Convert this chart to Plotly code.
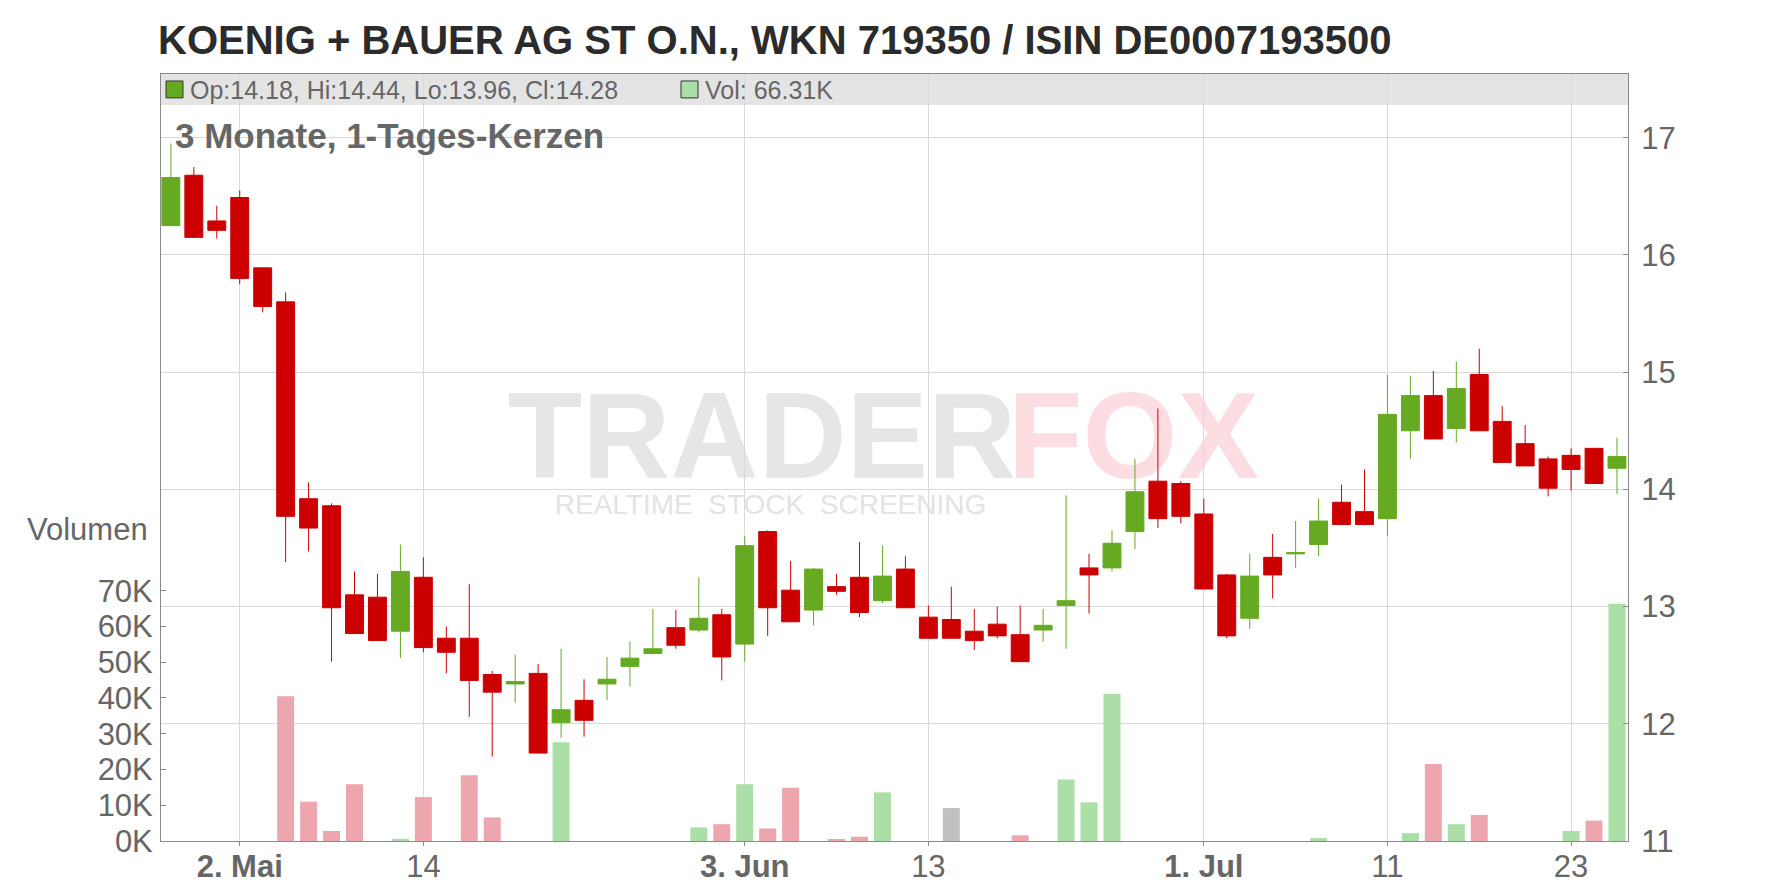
import plotly.graph_objects as go

# ---------------- data ----------------
dates = [
    "2024-04-26", "2024-04-29", "2024-04-30", "2024-05-02", "2024-05-03",
    "2024-05-06", "2024-05-07", "2024-05-08", "2024-05-09", "2024-05-10",
    "2024-05-13", "2024-05-14", "2024-05-15", "2024-05-16", "2024-05-17",
    "2024-05-20", "2024-05-21", "2024-05-22", "2024-05-23", "2024-05-24",
    "2024-05-27", "2024-05-28", "2024-05-29", "2024-05-30", "2024-05-31",
    "2024-06-03", "2024-06-04", "2024-06-05", "2024-06-06", "2024-06-07",
    "2024-06-10", "2024-06-11", "2024-06-12", "2024-06-13", "2024-06-14",
    "2024-06-17", "2024-06-18", "2024-06-19", "2024-06-20", "2024-06-21",
    "2024-06-24", "2024-06-25", "2024-06-26", "2024-06-27", "2024-06-28",
    "2024-07-01", "2024-07-02", "2024-07-03", "2024-07-04", "2024-07-05",
    "2024-07-08", "2024-07-09", "2024-07-10", "2024-07-11", "2024-07-12",
    "2024-07-15", "2024-07-16", "2024-07-17", "2024-07-18", "2024-07-19",
    "2024-07-22", "2024-07-23", "2024-07-24", "2024-07-25",
]

opens = [16.25, 16.68, 16.29, 16.49, 15.89, 15.60, 13.92, 13.86, 13.10, 13.08,
         12.79, 13.25, 12.73, 12.73, 12.42, 12.34, 12.43, 12.01, 12.20, 12.34,
         12.49, 12.60, 12.82, 12.80, 12.93, 12.68, 13.64, 13.14, 12.97, 13.17,
         13.25, 13.05, 13.32, 12.91, 12.89, 12.79, 12.85, 12.76, 12.80, 13.01,
         13.33, 13.33, 13.64, 14.07, 14.05, 13.79, 13.27, 12.90, 13.42, 13.45,
         13.53, 13.89, 13.81, 13.75, 14.50, 14.80, 14.52, 14.98, 14.58, 14.39,
         14.26, 14.29, 14.35, 14.18]
highs = [16.95, 16.75, 16.42, 16.55, 15.89, 15.68, 14.06, 13.88, 13.30, 13.28,
         13.53, 13.42, 12.83, 13.19, 12.45, 12.59, 12.51, 12.64, 12.38, 12.57,
         12.70, 12.98, 12.97, 13.25, 12.98, 13.60, 13.65, 13.39, 13.33, 13.28,
         13.55, 13.52, 13.43, 13.01, 13.17, 12.98, 13.00, 13.01, 12.98, 13.95,
         13.45, 13.65, 14.26, 14.69, 14.07, 13.92, 13.28, 13.45, 13.62, 13.73,
         13.92, 14.04, 14.17, 14.98, 14.97, 15.01, 15.09, 15.20, 14.71, 14.55,
         14.28, 14.35, 14.35, 14.44]
lows = [16.25, 16.15, 16.14, 15.75, 15.51, 13.38, 13.47, 12.53, 12.77, 12.71,
        12.56, 12.61, 12.43, 12.06, 11.72, 12.18, 11.75, 11.88, 11.89, 12.20,
        12.32, 12.59, 12.64, 12.78, 12.37, 12.53, 12.75, 12.87, 12.84, 13.10,
        12.91, 13.03, 12.99, 12.73, 12.73, 12.63, 12.73, 12.53, 12.70, 12.64,
        12.94, 13.30, 13.49, 13.67, 13.71, 13.15, 12.73, 12.81, 13.07, 13.33,
        13.43, 13.70, 13.70, 13.60, 14.26, 14.43, 14.40, 14.50, 14.23, 14.20,
        13.94, 13.99, 14.05, 13.96]
closes = [16.66, 16.15, 16.21, 15.80, 15.56, 13.77, 13.67, 12.99, 12.77, 12.71,
          13.30, 12.65, 12.61, 12.37, 12.27, 12.36, 11.75, 12.12, 12.03, 12.38,
          12.56, 12.64, 12.67, 12.90, 12.57, 13.52, 12.99, 12.87, 13.32, 13.13,
          12.95, 13.26, 12.99, 12.73, 12.73, 12.71, 12.75, 12.53, 12.84, 13.05,
          13.27, 13.54, 13.98, 13.75, 13.77, 13.15, 12.75, 13.26, 13.27, 13.46,
          13.73, 13.70, 13.70, 14.64, 14.80, 14.43, 14.86, 14.50, 14.23, 14.20,
          14.01, 14.17, 14.05, 14.28]
volumes = [0, 0, 0, 0, 0, 40500, 11000, 2800, 15900, 0,
           600, 12300, 0, 18400, 6600, 0, 0, 27600, 0, 0,
           0, 0, 0, 3800, 4700, 15900, 3500, 14900, 0, 400,
           1200, 13600, 0, 0, 9200, 0, 0, 1600, 0, 17200,
           10800, 41200, 0, 0, 0, 0, 0, 0, 0, 0,
           800, 0, 0, 0, 2200, 21500, 4700, 7300, 0, 0,
           0, 2800, 5700, 66310]

tick_dates = ["2024-05-02", "2024-05-14", "2024-06-03", "2024-06-13",
              "2024-07-01", "2024-07-11", "2024-07-23"]
tick_labels = ["<b>2. Mai</b>", "14", "<b>3. Jun</b>", "13",
               "<b>1. Jul</b>", "11", "23"]
price_ticks = [11, 12, 13, 14, 15, 16, 17]
vol_ticks = [0, 10000, 20000, 30000, 40000, 50000, 60000, 70000]
vol_tick_labels = ["0K", "10K", "20K", "30K", "40K", "50K", "60K", "70K"]

# ---------------- styling ----------------
W, H = 1776, 888
L, R, T, B = 153, 1620, 66, 836
GREEN = "#66aa22"
RED = "#cc0000"
VOL_UP = "#acdea8"
VOL_DOWN = "#eea6ae"
VOL_FLAT = "#c0c0c0"
GRID = "#d9d9d9"
AXIS = "#8a8a8a"
TXT = "#666666"
FONT = "Liberation Sans, Arial, sans-serif"


def px(xp):
    return (xp - L) / (R - L)


def py(yp):
    return (B - yp) / (B - T)


vol_colors = []
for i, c in enumerate(closes):
    if i == 0 or c > closes[i - 1]:
        vol_colors.append(VOL_UP)
    elif c < closes[i - 1]:
        vol_colors.append(VOL_DOWN)
    else:
        vol_colors.append(VOL_FLAT)

fig = go.Figure()
fig.add_trace(go.Bar(
    x=dates, y=volumes, marker=dict(color=vol_colors, line=dict(width=0)),
    width=0.74, yaxis="y", hoverinfo="skip", showlegend=False,
))
fig.add_trace(go.Candlestick(
    x=dates, open=opens, high=highs, low=lows, close=closes, yaxis="y2",
    increasing=dict(line=dict(color=GREEN, width=1), fillcolor=GREEN),
    decreasing=dict(line=dict(color=RED, width=1), fillcolor=RED),
    whiskerwidth=0, hoverinfo="skip", showlegend=False,
))

price_top = 11 + (B - T) / 117.67
vol_top = (B - T) / 35.9 * 10000

shapes = [
    # header band
    dict(type="rect", xref="paper", yref="paper", x0=0, x1=1, y0=py(97), y1=1,
         fillcolor="#e4e4e4", line=dict(width=0), layer="below"),
    # legend squares
    dict(type="rect", xref="paper", yref="paper", x0=px(158), x1=px(175),
         y0=py(90), y1=py(73), fillcolor=GREEN, line=dict(color="#333", width=1)),
    dict(type="rect", xref="paper", yref="paper", x0=px(673), x1=px(690),
         y0=py(90), y1=py(73), fillcolor=VOL_UP, line=dict(color="#333", width=1)),
    # watermark
    dict(type="rect", xref="paper", yref="paper", x0=px(420), x1=px(1014),
         y0=py(462), y1=py(372), line=dict(width=0), layer="below",
         label=dict(text="<b>TRADER</b>", textposition="middle right",
                    font=dict(size=122, color="#e6e6e6", family=FONT))),
    dict(type="rect", xref="paper", yref="paper", x0=px(994), x1=px(1330),
         y0=py(462), y1=py(372), line=dict(width=0), layer="below",
         label=dict(text="<b>FOX</b>", textposition="middle left",
                    font=dict(size=122, color="#fcdde1", family=FONT))),
    dict(type="rect", xref="paper", yref="paper", x0=px(500), x1=px(1025),
         y0=py(510), y1=py(480), line=dict(width=0), layer="below",
         label=dict(text="REALTIME  STOCK  SCREENING", textposition="middle center",
                    font=dict(size=28, color="#e3e3e3", family=FONT))),
]

annotations = [
    dict(text="KOENIG + BAUER AG ST O.N., WKN 719350 / ISIN DE0007193500",
         xref="paper", yref="paper", x=px(148), y=py(32), xanchor="left", yanchor="middle",
         showarrow=False, font=dict(size=40, color="#2b2b2b", family=FONT, weight="bold")),
    dict(text=f"Op:{opens[-1]:.2f}, Hi:{highs[-1]:.2f}, Lo:{lows[-1]:.2f}, Cl:{closes[-1]:.2f}",
         xref="paper", yref="paper", x=px(180), y=py(82), xanchor="left", yanchor="middle",
         showarrow=False, font=dict(size=25, color=TXT, family=FONT)),
    dict(text=f"Vol: {volumes[-1] / 1000:.2f}K",
         xref="paper", yref="paper", x=px(695), y=py(82), xanchor="left", yanchor="middle",
         showarrow=False, font=dict(size=25, color=TXT, family=FONT)),
    dict(text="3 Monate, 1-Tages-Kerzen",
         xref="paper", yref="paper", x=px(165), y=py(128), xanchor="left", yanchor="middle",
         showarrow=False, font=dict(size=35, color=TXT, family=FONT, weight="bold")),
    dict(text="Volumen",
         xref="paper", yref="paper", x=px(142), y=py(523), xanchor="right", yanchor="middle",
         showarrow=False, font=dict(size=31, color=TXT, family=FONT)),
]

fig.update_layout(
    width=W, height=H,
    margin=dict(l=L, r=W - R, t=T, b=H - B, pad=0),
    paper_bgcolor="white", plot_bgcolor="white",
    font=dict(family=FONT, color=TXT),
    showlegend=False, hovermode=False,
    shapes=shapes, annotations=annotations,
    xaxis=dict(
        type="category", range=[-0.43, len(dates) - 1 + 0.48],
        tickmode="array", tickvals=tick_dates, ticktext=tick_labels,
        showgrid=True, gridcolor=GRID, gridwidth=1,
        showline=True, linecolor=AXIS, linewidth=1, mirror=True,
        ticks="outside", ticklen=4, tickcolor=AXIS, ticklabelstandoff=-6,
        tickfont=dict(size=31, color=TXT, family=FONT),
        rangeslider=dict(visible=False), zeroline=False,
    ),
    yaxis=dict(
        side="left", range=[0, vol_top],
        tickmode="array", tickvals=vol_ticks, ticktext=vol_tick_labels,
        showgrid=False, zeroline=False,
        showline=True, linecolor=AXIS, linewidth=1,
        ticks="inside", ticklen=5, tickcolor=AXIS, ticklabelstandoff=1,
        tickfont=dict(size=31, color=TXT, family=FONT),
    ),
    yaxis2=dict(
        overlaying="y", side="right", range=[11, price_top],
        tickmode="array", tickvals=price_ticks,
        showgrid=True, gridcolor=GRID, gridwidth=1, zeroline=False,
        showline=True, linecolor=AXIS, linewidth=1,
        ticks="inside", ticklen=5, tickcolor=AXIS, ticklabelstandoff=6,
        tickfont=dict(size=31, color=TXT, family=FONT),
    ),
    boxgap=0.22,
    boxgroupgap=0,
)

fig.write_html("out.html")
